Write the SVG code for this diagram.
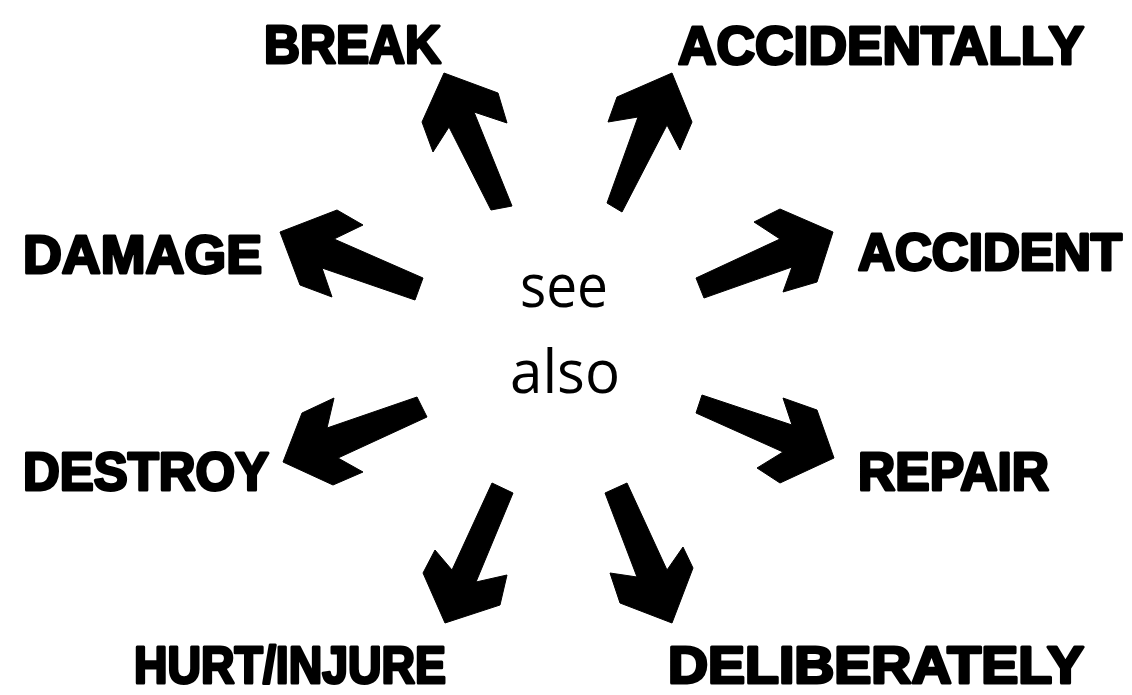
<svg xmlns="http://www.w3.org/2000/svg" width="1132" height="695" viewBox="0 0 1132 695">
<style>
.lbl{font-family:"Liberation Sans",Arial,sans-serif;font-weight:900;font-size:54px;fill:#000;stroke:#000;stroke-width:3;stroke-linejoin:round}
.ctr{font-family:"Open Sans","Liberation Sans",sans-serif;font-size:60px;fill:#000;text-anchor:middle}
.arr{fill:#000;stroke:#000;stroke-width:1;stroke-linejoin:round}
</style>
<rect width="1132" height="695" fill="#fff"/>
<g id="center"><text class="ctr" x="564" y="307" textLength="88" lengthAdjust="spacingAndGlyphs">see</text><text class="ctr" x="565" y="393" textLength="110" lengthAdjust="spacingAndGlyphs">also</text></g>
<g id="break"><text class="lbl" x="264" y="63" textLength="177" lengthAdjust="spacingAndGlyphs">BREAK</text></g>
<g id="accidentally"><text class="lbl" x="678" y="64" textLength="406" lengthAdjust="spacingAndGlyphs">ACCIDENTALLY</text></g>
<g id="damage"><text class="lbl" x="23" y="273" textLength="239" lengthAdjust="spacingAndGlyphs">DAMAGE</text></g>
<g id="accident"><text class="lbl" x="858" y="270" textLength="264" lengthAdjust="spacingAndGlyphs" style="font-size:51px">ACCIDENT</text></g>
<g id="destroy"><text class="lbl" x="23" y="490" textLength="246" lengthAdjust="spacingAndGlyphs">DESTROY</text></g>
<g id="repair"><text class="lbl" x="858" y="490" textLength="191" lengthAdjust="spacingAndGlyphs">REPAIR</text></g>
<g id="hurt"><text class="lbl" x="134" y="683" textLength="312" lengthAdjust="spacingAndGlyphs" style="font-size:52px">HURT/INJURE</text></g>
<g id="deliberately"><text class="lbl" x="668" y="683" textLength="416" lengthAdjust="spacingAndGlyphs" style="font-size:52px">DELIBERATELY</text></g>
<g id="connectors">
<polygon class="arr" points="444,73 498,93 507,123 474,112 512,206 491,210 449,127 433,152 422,122"/>
<polygon class="arr" points="672,73 692,122 680,150 667,125 622,212 607,203 638,117 608,122 617,97"/>
<polygon class="arr" points="280,232 337,210 363,225 334,239 423,278 415,300 322,268 332,297 300,285"/>
<polygon class="arr" points="833,232 780,209 754,222 780,239 696,278 704,298 792,267 783,292 817,282"/>
<polygon class="arr" points="283,462 302,413 334,398 327,428 417,397 427,417 338,458 363,472 333,485"/>
<polygon class="arr" points="834,458 817,410 783,398 792,425 702,395 696,413 783,452 757,468 780,483"/>
<polygon class="arr" points="445,623 423,573 435,550 452,570 492,483 513,493 476,582 507,575 500,605"/>
<polygon class="arr" points="672,623 693,568 683,547 667,570 627,483 605,493 637,577 610,573 620,603"/>
</g>
</svg>
